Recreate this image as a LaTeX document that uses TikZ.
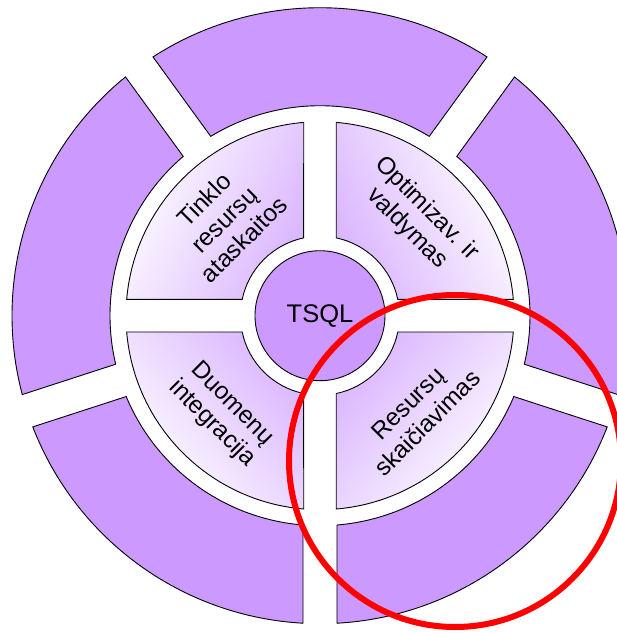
\documentclass[tikz,border=0pt]{standalone}
\usepackage{fontspec}
\setmainfont{Liberation Sans}

\definecolor{ringpurple}{RGB}{204,153,255}
\definecolor{markred}{RGB}{255,0,0}

\tikzset{
  ringseg/.style={fill=ringpurple, draw=black, line width=0.9pt},
  quadseg/.style={draw=black, line width=0.9pt,
    bottom color=white, top color=ringpurple!72!white},
  hub/.style={circle, fill=ringpurple, draw=black, line width=0.9pt,
    minimum size=130pt, inner sep=0pt, font=\fontsize{25.5}{28}\selectfont},
  quadlabel/.style={align=center, inner sep=0pt,
    font=\fontsize{24.4}{28}\selectfont},
  marker/.style={draw=markred, line width=6pt}
}

% Annular sector lying between two gap centre lines (angles #2 and #3),
% radii #4 (inner) and #5 (outer), each gap of half width #6.
\newcommand\annsector[6]{%
  \pgfmathsetmacro\secOA{#2+asin(#6/#5)}%
  \pgfmathsetmacro\secOB{#3-asin(#6/#5)}%
  \pgfmathsetmacro\secIA{#2+asin(#6/#4)}%
  \pgfmathsetmacro\secIB{#3-asin(#6/#4)}%
  \path[#1] (\secOA:#5pt)
    arc[start angle=\secOA, end angle=\secOB, radius=#5pt]
    -- (\secIB:#4pt)
    arc[start angle=\secIB, end angle=\secIA, radius=#4pt]
    -- cycle;
}

\begin{document}
\begin{tikzpicture}
  \useasboundingbox (-320pt,-317.3pt) rectangle (297pt,315.7pt);
  \clip (-320pt,-317.3pt) rectangle (297pt,315.7pt);

  % outer ring: five segments
  \annsector{ringseg}{54}{126}{210}{308}{17}
  \annsector{ringseg}{126}{198}{210}{308}{17}
  \annsector{ringseg}{198}{270}{210}{308}{17}
  \annsector{ringseg}{-90}{-18}{210}{308}{17}
  \annsector{ringseg}{-18}{54}{210}{308}{17}

  % inner ring: four shaded quadrants
  \annsector{quadseg, shading angle=-115}{90}{180}{79.5}{194}{16.3}
  \annsector{quadseg, shading angle=115}{0}{90}{79.5}{194}{16.3}
  \annsector{quadseg, shading angle=-50}{180}{270}{79.5}{194}{16.3}
  \annsector{quadseg, shading angle=50}{270}{360}{79.5}{194}{16.3}

  % hub
  \node[hub] (tsql) at (0,0) {TSQL};

  % quadrant labels
  \node[quadlabel, rotate=45]  (tinklo) at (135:136pt) {Tinklo\\resursų\\ataskaitos};
  \node[quadlabel, rotate=-45] (optim)  at (45:137pt)  {Optimizav. ir\\valdymas};
  \node[quadlabel, rotate=-45] (duom)   at (225:139pt) {Duomenų\\integracija};
  \node[quadlabel, rotate=45]  (resurs) at (-45:138pt) {Resursų\\skaičiavimas};

  % red highlight ring
  \draw[marker] (135pt,-145.3pt) circle[radius=166pt];
\end{tikzpicture}
\end{document}
